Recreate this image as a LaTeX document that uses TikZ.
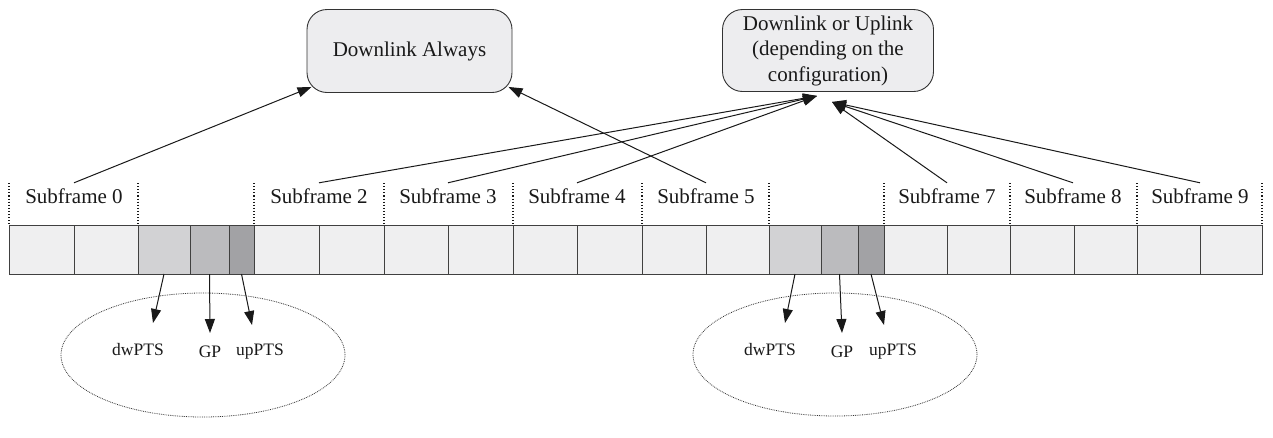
\documentclass[tikz,border=0pt]{standalone}
\usepackage{fontspec}
\setmainfont{Liberation Serif}
\usetikzlibrary{arrows.meta,shapes.geometric}
\definecolor{nf}{HTML}{EFEFF0}
\definecolor{dwc}{HTML}{D2D2D4}
\definecolor{gpc}{HTML}{BBBBBE}
\definecolor{upc}{HTML}{A2A2A5}
\definecolor{boxc}{HTML}{EDEDEF}
\begin{document}
\begin{tikzpicture}[x=1pt,y=-1pt,
  cell/.style={draw=black!75, line width=0.9pt, anchor=north west, minimum height=49pt, inner sep=0pt, outer sep=0pt},
  sepline/.style={dotted, line width=1.1pt, black!90},
  sflabel/.style={font=\fontsize{21}{25}\selectfont, minimum height=26pt, inner sep=0pt, text=black!90},
  topbox/.style={draw=black!80, line width=0.9pt, fill=boxc, rounded corners=20pt, inner sep=0pt, align=center, font=\fontsize{21}{25.5}\selectfont, text=black!90},
  conn/.style={line width=1pt, black!90, -{Triangle[length=14pt,width=10pt]}},
  ell/.style={ellipse, draw=black!80, densely dotted, line width=0.8pt, inner sep=0pt},
  small/.style={font=\fontsize{17.5}{20}\selectfont, inner sep=0pt, text=black!90}
]
\useasboundingbox (0,0) rectangle (1273,437);
\fill[white] (0,0) rectangle (1273,437);

% cells
\foreach \a/\b/\c [count=\i] in {9/74/nf,74/138/nf,138/190/dwc,190/229/gpc,229/254/upc,254/319/nf,319/384/nf,384/448/nf,448/513/nf,513/577/nf,577/642/nf,642/706/nf,706/769/nf,769/821/dwc,821/858/gpc,858/884/upc,884/947/nf,947/1010/nf,1010/1074/nf,1074/1137/nf,1137/1200/nf,1200/1262/nf}{
  \pgfmathsetmacro{\w}{\b-\a}
  \node[cell, fill=\c, minimum width=\w pt] (c\i) at (\a,225) {};
}

% dotted separators
\foreach \x in {9,138,254,384,513,642,769,884,1010,1137,1262}{
  \draw[sepline] (\x,183) -- (\x,225);
}

% subframe labels
\node[sflabel] (s0) at (74,196) {Subframe 0};
\node[sflabel] (s2) at (319,196) {Subframe 2};
\node[sflabel] (s3) at (448,196) {Subframe 3};
\node[sflabel] (s4) at (577,196) {Subframe 4};
\node[sflabel] (s5) at (706,196) {Subframe 5};
\node[sflabel] (s7) at (947,196) {Subframe 7};
\node[sflabel] (s8) at (1073,196) {Subframe 8};
\node[sflabel] (s9) at (1200,196) {Subframe 9};

% top boxes
\node[topbox, minimum width=205pt, minimum height=83pt] (dl) at (409.5,51) {Downlink Always};
\node[topbox, minimum width=211pt, minimum height=82pt] (dr) at (828,50.5) {Downlink or Uplink\\(depending on the\\configuration)};

% connectors to top boxes
\draw[conn] (s0.north) -- ([shift={(5,-6)}]dl.south west);
\draw[conn] (s5.north) -- ([shift={(-4,-6)}]dl.south east);
\draw[conn] (s2.north) -- ([shift={(-11,4)}]dr.south);
\draw[conn] (s3.north) -- ([shift={(-11,4)}]dr.south);
\draw[conn] (s4.north) -- ([shift={(-11,4)}]dr.south);
\draw[conn] (s7.north) -- ([shift={(4,10)}]dr.south);
\draw[conn] (s8.north) -- ([shift={(4,10)}]dr.south);
\draw[conn] (s9.north) -- ([shift={(4,10)}]dr.south);

% ellipses
\node[ell, minimum width=284pt, minimum height=124pt] (e1) at (203,355) {};
\node[ell, minimum width=284pt, minimum height=123pt] (e2) at (835,354.5) {};

\node[small] (dw1) at (138,350) {dwPTS};
\node[small] (gp1) at (210,352) {GP};
\node[small] (up1) at (260,352) {upPTS};
\node[small] (dw2) at (770,350) {dwPTS};
\node[small] (gp2) at (842,352) {GP};
\node[small] (up2) at (893,352) {upPTS};

\coordinate (td1) at (153,323);
\coordinate (tg1) at (210,333);
\coordinate (tu1) at (252,325);
\coordinate (td2) at (785,323);
\coordinate (tg2) at (842,333);
\coordinate (tu2) at (884,325);

\draw[conn] (c3.south) -- (td1);
\draw[conn] (c4.south) -- (tg1);
\draw[conn] (c5.south) -- (tu1);
\draw[conn] (c14.south) -- (td2);
\draw[conn] (c15.south) -- (tg2);
\draw[conn] (c16.south) -- (tu2);
\end{tikzpicture}
\end{document}
